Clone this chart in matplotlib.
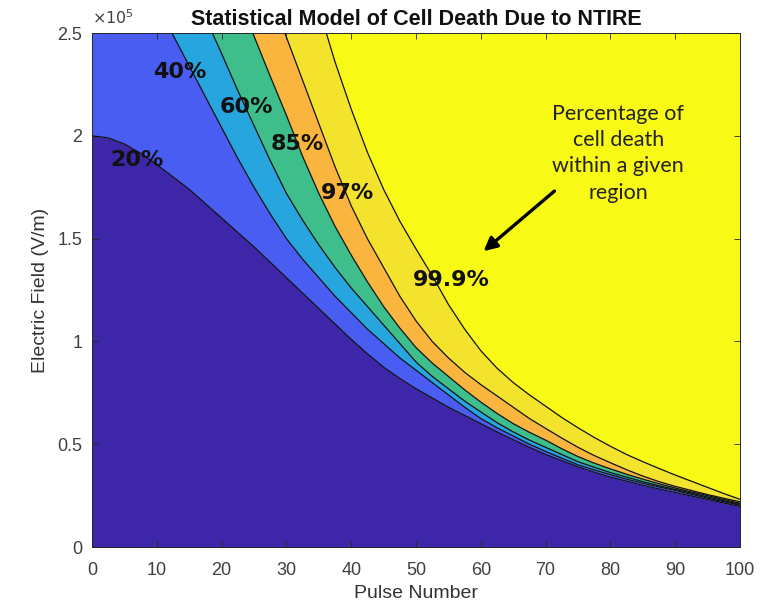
import matplotlib
matplotlib.use("Agg")
import matplotlib.pyplot as plt
import numpy as np

# pulse number grid and contour boundaries (electric field in 1e5 V/m)
pulse = [0, 2.5, 5, 7.5, 10, 12.5, 15, 17.5, 20, 22.5, 25, 27.5, 30, 32.5, 35, 37.5, 40, 42.5, 45, 47.5,
         50, 52.5, 55, 57.5, 60, 62.5, 65, 67.5, 70, 72.5, 75, 77.5, 80, 82.5, 85, 87.5, 90, 92.5, 95, 97.5, 100]
e_20 = [2.00, 1.99, 1.96, 1.915, 1.86, 1.80, 1.74, 1.67, 1.60, 1.53, 1.46, 1.385, 1.31, 1.235, 1.16, 1.085, 1.01, 0.94, 0.875, 0.82,
        0.77, 0.725, 0.68, 0.64, 0.60, 0.56, 0.522, 0.485, 0.45, 0.42, 0.39, 0.364, 0.34, 0.32, 0.30, 0.282, 0.265, 0.248, 0.231, 0.214, 0.197]
e_40 = [3.05, 3.00, 2.90, 2.78, 2.64, 2.49, 2.34, 2.19, 2.04, 1.89, 1.75, 1.62, 1.50, 1.40, 1.31, 1.22, 1.14, 1.06, 0.99, 0.92,
        0.86, 0.80, 0.74, 0.68, 0.625, 0.58, 0.54, 0.50, 0.465, 0.432, 0.40, 0.375, 0.352, 0.33, 0.31, 0.292, 0.275, 0.256, 0.238, 0.22, 0.203]
e_60 = [3.60, 3.50, 3.40, 3.25, 3.10, 2.93, 2.76, 2.575, 2.40, 2.22, 2.05, 1.88, 1.72, 1.59, 1.47, 1.36, 1.26, 1.17, 1.08, 0.99,
        0.90, 0.83, 0.77, 0.71, 0.657, 0.605, 0.56, 0.52, 0.485, 0.45, 0.415, 0.388, 0.362, 0.34, 0.318, 0.298, 0.28, 0.262, 0.243, 0.225, 0.208]
e_85 = [4.20, 4.05, 3.90, 3.75, 3.60, 3.43, 3.25, 3.07, 2.88, 2.68, 2.485, 2.29, 2.10, 1.90, 1.72, 1.56, 1.42, 1.29, 1.17, 1.065,
        0.97, 0.895, 0.83, 0.765, 0.705, 0.65, 0.60, 0.558, 0.52, 0.478, 0.44, 0.408, 0.38, 0.354, 0.33, 0.308, 0.287, 0.268, 0.25, 0.231, 0.213]
e_97 = [4.80, 4.65, 4.50, 4.30, 4.10, 3.90, 3.70, 3.50, 3.30, 3.10, 2.90, 2.69, 2.48, 2.27, 2.06, 1.85, 1.66, 1.50, 1.36, 1.22,
        1.10, 1.00, 0.92, 0.85, 0.79, 0.735, 0.68, 0.625, 0.577, 0.53, 0.485, 0.445, 0.41, 0.376, 0.345, 0.318, 0.295, 0.275, 0.255, 0.237, 0.22]
e_999 = [6.00, 5.80, 5.60, 5.40, 5.20, 4.95, 4.70, 4.45, 4.20, 3.95, 3.70, 3.43, 3.15, 2.88, 2.62, 2.36, 2.13, 1.92, 1.74, 1.585,
         1.45, 1.32, 1.18, 1.06, 0.955, 0.87, 0.80, 0.74, 0.685, 0.63, 0.58, 0.533, 0.49, 0.45, 0.415, 0.382, 0.35, 0.32, 0.29, 0.26, 0.232]

level_labels = ["20%", "40%", "60%", "85%", "97%", "99.9%"]
label_pos = [(7.0, 1.88), (13.6, 2.31), (23.8, 2.14), (31.6, 1.96), (39.4, 1.72), (55.5, 1.30)]

region_colors = ["#3d26a8", "#4a5df3", "#27a5de", "#3dbe8b", "#fab53f", "#f4e32d", "#f8f915"]

fig = plt.figure(figsize=(7.68, 6.09), dpi=100)
ax = fig.add_axes([0.1198, 0.1018, 0.8437, 0.844])

x = np.array(pulse)
bounds = [np.zeros(len(x))] + [np.array(c) for c in [e_20, e_40, e_60, e_85, e_97, e_999]] + [np.full(len(x), 10.0)]
for i in range(len(bounds) - 1):
    ax.fill_between(x, bounds[i], bounds[i + 1], color=region_colors[i], lw=0)
for c in bounds[1:-1]:
    ax.plot(x, c, color="#111111", lw=0.9)

ax.set_xlim(0, 100)
ax.set_ylim(0, 2.5)
ax.set_xticks(range(0, 101, 10))
ax.set_yticks([0, 0.5, 1, 1.5, 2, 2.5])
ax.set_yticklabels(["0", "0.5", "1", "1.5", "2", "2.5"])

sans = ["Liberation Sans", "DejaVu Sans"]
ax.tick_params(direction="in", top=True, right=True, length=4, width=0.6,
               colors="#262626", labelsize=13)
ax.tick_params(axis="x", pad=11)
ax.tick_params(axis="y", pad=7)
for lbl in ax.get_xticklabels() + ax.get_yticklabels():
    lbl.set_family(sans)
    lbl.set_color("#404040")
for s in ax.spines.values():
    s.set_color("#262626")
    s.set_linewidth(0.7)

ax.set_xlabel("Pulse Number", fontsize=14, family=sans, color="#333333", labelpad=4)
ax.set_ylabel("Electric Field (V/m)", fontsize=14, family=sans, color="#333333", labelpad=6)
ax.set_title("Statistical Model of Cell Death Due to NTIRE", fontsize=15.5, fontweight="bold",
             family=sans, color="#111111", pad=6)
ax.text(0.0, 1.012, r"$\times10^5$", transform=ax.transAxes, ha="left", va="bottom",
        fontsize=11.5, color="#404040")

for txt, (px, py) in zip(level_labels, label_pos):
    ax.text(px, py, txt, ha="center", va="center", fontsize=16, fontweight="bold",
            family="DejaVu Sans", color="#111111")

ax.text(81.2, 1.915, "Percentage of\ncell death\nwithin a given\nregion", ha="center", va="center",
        fontsize=15.5, family=["Lato", "DejaVu Sans"], color="#222222", linespacing=1.4)
ax.annotate("", xy=(60.1, 1.43), xytext=(71.7, 1.74),
            arrowprops=dict(arrowstyle="-|>", color="black", lw=2.4, mutation_scale=20))

fig.savefig("out.png", dpi=100)
